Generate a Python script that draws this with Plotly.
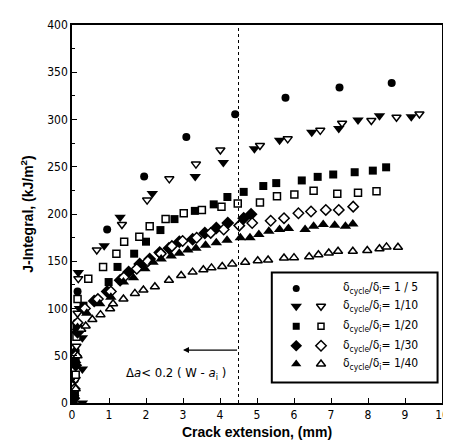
import plotly.graph_objects as go

# ---------------- data ----------------
s5_x = [0.05, 0.08, 0.10, 0.12, 0.15, 0.95, 1.95, 3.09, 4.41, 5.77, 7.23, 8.64]
s5_y = [0, 25, 55, 85, 118, 183.5, 239.7, 281.6, 305.5, 323, 333.8, 338.7]

s10f_x = [0.28, 0.28, 0.28, 0.20, 0.17, 0.87, 1.30, 2.17, 3.33, 4.09, 4.93, 5.61, 6.48, 7.21, 7.73, 8.31, 9.17]
s10f_y = [0, 36, 69, 100, 138, 166.5, 196.5, 221.6, 239.7, 254.5, 269, 278, 286.5, 290.6, 299.5, 304, 303]
s10o_x = [0.10, 0.12, 0.15, 0.17, 0.67, 1.35, 2.03, 2.63, 3.35, 4.01, 5.08, 5.83, 6.71, 7.30, 8.09, 8.77, 9.39]
s10o_y = [25, 60, 95, 131.6, 162, 188.8, 214.7, 237.2, 252.8, 267.7, 272.5, 279.5, 288.5, 296, 298.9, 302.3, 305.8]

s20f_x = [0.08, 0.10, 0.12, 0.31, 0.99, 1.23, 1.68, 2.00, 2.39, 2.77, 3.32, 3.83, 4.20, 4.64, 5.17, 5.52, 6.21, 6.64, 7.06, 7.64, 8.13, 8.49]
s20f_y = [10, 45, 80, 103, 128, 144, 158, 170.7, 183, 194.6, 203.3, 210.2, 218, 223.4, 229.6, 232.7, 235.5, 239.3, 241.8, 244.2, 245.9, 249.4]
s20o_x = [0.10, 0.12, 0.15, 0.44, 0.84, 1.20, 1.41, 1.82, 2.10, 2.53, 3.02, 3.51, 4.04, 4.48, 5.08, 5.54, 6.01, 6.53, 7.17, 7.73, 8.23]
s20o_y = [30, 70, 110, 131.6, 144, 158, 170.7, 176, 187, 194.6, 200.8, 204.3, 207.8, 211.2, 212.3, 218.9, 220.6, 224.7, 221.3, 222.6, 224.1]

s30f_x = [0.05, 0.10, 0.15, 0.30, 0.60, 0.95, 1.30, 1.53, 1.83, 2.10, 2.37, 2.62, 2.90, 3.26, 3.59, 3.90, 4.21, 4.64, 4.84]
s30f_y = [5, 40, 75, 100, 108, 118, 129.9, 138.5, 147.2, 152.4, 159.3, 163.8, 170.7, 173.2, 180, 185.3, 190.5, 195.6, 199.8]
s30o_x = [0.07, 0.10, 0.15, 0.35, 0.70, 1.05, 1.40, 1.75, 2.05, 2.40, 2.70, 2.99, 3.37, 3.75, 4.10, 4.52, 4.87, 5.37, 5.73, 6.12, 6.46, 6.86, 7.21, 7.60]
s30o_y = [15, 50, 85, 100, 110, 118, 133, 142, 150, 158, 166, 171.4, 174.9, 180, 183.6, 187.7, 190.5, 192.9, 195.6, 200.8, 202.6, 204.3, 204.3, 207.8]

s40f_x = [0.05, 0.10, 0.15, 0.40, 0.75, 1.05, 1.39, 1.66, 1.97, 2.19, 2.41, 2.68, 2.90, 3.13, 3.35, 3.61, 3.90, 4.19, 4.55, 4.81, 5.05, 5.32, 5.61, 5.85, 6.30, 6.53, 6.79, 7.10, 7.39, 7.59]
s40f_y = [10, 45, 80, 95, 105, 112, 128, 132.6, 142, 149, 152.4, 155.5, 158.5, 161.8, 163.8, 167, 169.7, 172.2, 174.9, 174.9, 178.4, 181.8, 183.6, 184.6, 183.6, 187, 188.8, 188, 187, 189.4]
s40o_x = [0.10, 0.15, 0.25, 0.37, 0.55, 0.77, 1.03, 1.11, 1.39, 1.70, 1.93, 2.24, 2.62, 2.95, 3.26, 3.55, 3.77, 4.06, 4.33, 4.68, 5.02, 5.30, 5.73, 6.00, 6.41, 6.66, 6.94, 7.19, 7.59, 7.98, 8.31, 8.50, 8.81]
s40o_y = [15, 50, 78, 81.4, 88.3, 93.5, 99.7, 105, 110.1, 116, 119.5, 123, 129.9, 135, 138.5, 141, 143, 144.5, 147.2, 148.9, 150.5, 151.4, 153.4, 153.8, 154.8, 156.9, 158.7, 160.6, 160.6, 161.4, 163.3, 165.2, 164.8]

legend_labels = ["1 / 5", "1/10", "1/20", "1/30", "1/40"]
x_ticks = list(range(0, 11))
y_ticks = list(range(0, 401, 50))

# ---------------- figure ----------------
fig = go.Figure()
BLACK = "black"
NARROW = "DejaVu Sans Condensed, Liberation Sans Narrow, Arial"

def mk(symbol, size, filled):
    return dict(symbol=symbol, size=size,
                color=BLACK if filled else "white",
                line=dict(color=BLACK, width=0 if filled else 1.5))

def add(x, y, symbol, size, filled=True):
    fig.add_trace(go.Scatter(x=x, y=y, mode="markers", showlegend=False,
                             hoverinfo="skip", marker=mk(symbol, size, filled)))

add(s5_x, s5_y, "circle", 8)
add(s10f_x, s10f_y, "triangle-down", 10)
add(s10o_x, s10o_y, "triangle-down", 8, filled=False)
add(s20f_x, s20f_y, "square", 8)
add(s20o_x, s20o_y, "square", 7, filled=False)
add(s30f_x, s30f_y, "diamond", 10)
add(s30o_x, s30o_y, "diamond", 8, filled=False)
add(s40f_x, s40f_y, "triangle-up", 10)
add(s40o_x, s40o_y, "triangle-up", 8, filled=False)

# legend box (drawn manually for the two-column layout)
lx0, lx1, ly0, ly1 = 5.4, 9.88, 21.8, 138.2
fig.add_shape(type="rect", x0=lx0, x1=lx1, y0=ly0, y1=ly1,
              line=dict(color=BLACK, width=2), fillcolor="white", layer="below")
row_y = [121.2, 102.4, 81.2, 60.6, 41.2]
filled_syms = [("circle", 7), ("triangle-down", 10), ("square", 7), ("diamond", 9), ("triangle-up", 9)]
open_syms = [None, ("triangle-down", 8), ("square", 6), ("diamond", 8), ("triangle-up", 8)]
for i, yv in enumerate(row_y):
    s, sz = filled_syms[i]
    fig.add_trace(go.Scatter(x=[6.06], y=[yv], mode="markers", showlegend=False,
                             hoverinfo="skip", marker=mk(s, sz, True)))
    if open_syms[i]:
        s, sz = open_syms[i]
        fig.add_trace(go.Scatter(x=[6.73], y=[yv], mode="markers", showlegend=False,
                                 hoverinfo="skip", marker=mk(s, sz, False)))
    fig.add_annotation(x=7.26, y=yv, xanchor="left", yanchor="middle", showarrow=False,
                       text="δ<sub>cycle</sub>/δ<sub>i</sub>= " + legend_labels[i],
                       font=dict(family=NARROW, size=12, color=BLACK))

# dotted vertical line
fig.add_shape(type="line", x0=4.5, x1=4.5, y0=0, y1=400,
              line=dict(color=BLACK, width=1, dash="dot"))

# arrow + criterion text
fig.add_annotation(x=3.0, y=56, ax=4.5, ay=56, xref="x", yref="y", axref="x", ayref="y",
                   showarrow=True, arrowhead=2, arrowsize=1, arrowwidth=1.2, arrowcolor=BLACK, text="")
fig.add_annotation(x=2.8, y=31, showarrow=False, xanchor="center", yanchor="middle",
                   text="Δ<i>a</i>&lt; 0.2 ( W - <i>a</i><sub>i</sub> )",
                   font=dict(family=NARROW, size=13, color=BLACK))

tickfont = dict(family=NARROW, size=12, color=BLACK)
titlefont = dict(family="Liberation Sans, Arial", size=14, color=BLACK, weight="bold")

fig.update_xaxes(range=[0, 10], tickvals=x_ticks, ticks="inside", ticklen=5, tickwidth=1.2,
                 tickcolor=BLACK, showline=True, linecolor=BLACK, linewidth=1.6, mirror=True,
                 showgrid=False, zeroline=False, tickfont=tickfont,
                 title=dict(text="Crack extension, (mm)", font=titlefont, standoff=6))
fig.update_yaxes(range=[0, 400], tickvals=y_ticks, ticks="inside", ticklen=5, tickwidth=1.2,
                 tickcolor=BLACK, showline=True, linecolor=BLACK, linewidth=1.6, mirror=True,
                 showgrid=False, zeroline=False, tickfont=tickfont,
                 minor=dict(dtick=25, ticks="inside", ticklen=3, tickcolor=BLACK, showgrid=False),
                 title=dict(text="J-Integral, (kJ/m<sup>2</sup>)", font=titlefont, standoff=10))

fig.update_layout(width=451, height=446, margin=dict(l=64, r=11, t=10, b=51),
                  paper_bgcolor="white", plot_bgcolor="white", showlegend=False)

fig.write_html("out.html")
